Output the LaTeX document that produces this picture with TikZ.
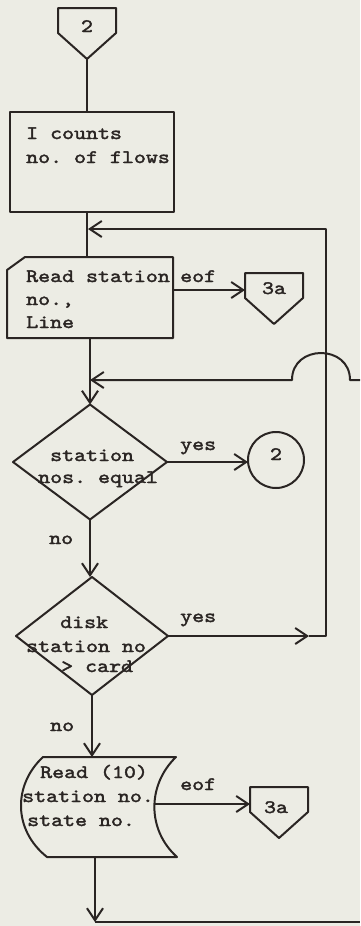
\documentclass[tikz,border=0pt]{standalone}
\usepackage{fontspec}
\setmonofont{lmmono10-regular.otf}[FakeStretch=1.2, FakeBold=2]
\usetikzlibrary{arrows.meta,shapes.geometric}
\definecolor{ink}{RGB}{42,37,35}
\definecolor{paper}{RGB}{236,236,228}
\tikzset{
  flow/.style={line width=2pt, draw=ink, line join=round},
  arr/.style={flow, -{Straight Barb[length=12pt,width=16pt]}},
  lbl/.style={inner sep=0pt, anchor=base west, text=ink,
    font=\ttfamily\fontsize{19}{23}\selectfont},
  ctr/.style={lbl, anchor=base},
  hold/.style={inner sep=0pt, outer sep=0pt, draw=none},
  box/.style={hold, flow},
  % off-page connector: pentagon pointing down, origin at top centre
  offpage/.pic={
    \draw[flow] (-29,0) -- (29,0) -- (29,25) -- (0,51) -- (-29,25) -- cycle;
    \coordinate (-w) at (-29,17);
    \coordinate (-s) at (0,51);
  },
}
\begin{document}
\begin{tikzpicture}[x=1pt,y=-1pt]
\fill[paper] (0,0) rectangle (360,926);
\useasboundingbox (0,0) rectangle (360,926);

% entry connector
\pic (cin) at (87,8) {offpage};
\node[ctr] at (87,32) {2};

% initialisation box
\node[box, minimum width=164pt, minimum height=100pt] (count) at (92,162) {};
\node[lbl] at (26,139) {I counts};
\node[lbl] at (26,163) {no. of flows};
\draw[flow] (cin-s) -- (cin-s |- count.north);

% read card
\node[hold, minimum width=166pt, minimum height=81pt] (readst) at (90,297.5) {};
\draw[flow] (readst.south west) -- (readst.south east) -- (readst.north east)
  -- ([xshift=18pt]readst.north west) -- ([yshift=-13pt]readst.north west) -- cycle;
\node[lbl] at (26,282) {Read station};
\node[lbl] at (26,305) {no.,};
\node[lbl] at (26,328) {Line};
\coordinate (join1) at (88,229);
\draw[flow] (cin-s |- count.south) -- (cin-s |- readst.north);

% end of file exit
\pic (eofa) at (274,273) {offpage};
\node[ctr] at (274,294) {3a};
\draw[arr] (readst.east |- eofa-w) -- (eofa-w);
\node[lbl] at (180,282) {eof};

% first decision
\node[hold, diamond, flow, minimum width=154pt, minimum height=115pt] (eqd) at (90,462) {};
\node[lbl] at (50,461) {station};
\node[lbl] at (38,483) {nos. equal};
\draw[arr] (readst.south -| eqd.north) -- (eqd.north);

% return line crossing the loop with a hop
\coordinate (offR1) at (360,380);
\coordinate (hopR) at (350,380);
\coordinate (hopL) at (292,380);
\draw[arr] (offR1) -- (hopR) .. controls (350,344) and (292,344) .. (hopL)
  -- (eqd.north |- offR1);

% return connector
\node[hold, circle, flow, minimum size=56pt] (ret) at (276,460) {};
\node[ctr] at (276,460) {2};
\draw[arr] (eqd.east) -- (eqd.east -| ret.west);
\node[lbl] at (180,450) {yes};

% second decision
\node[hold, diamond, flow, minimum width=152pt, minimum height=118pt] (gtd) at (92,636) {};
\draw[arr] (eqd.south) -- (eqd.south |- gtd.north);
\node[lbl] at (49,544) {no};
\node[lbl] at (60,628) {disk};
\node[lbl] at (26,652) {station no};
\node[lbl] at (61,672) {> card};
\node[lbl] at (180,622) {yes};

% loop back to the read card
\coordinate (yesmark) at (309,636);
\coordinate (loopx) at (326,636);
\coordinate (looptop) at (326,229);
\draw[arr] (gtd.east) -- (yesmark);
\draw[arr] (yesmark) -- (loopx) -- (looptop) -- (join1);

% stored data read
\node[hold, minimum width=156pt, minimum height=100pt] (readten) at (99,807) {};
\draw[flow] (43,757) -- (176,757) .. controls (147,785) and (147,830) .. (177,857)
  -- (47,857) .. controls (13,830) and (13,785) .. (43,757) -- cycle;
\draw[arr] (gtd.south) -- (gtd.south |- readten.north);
\node[lbl] at (50,731) {no};
\node[lbl] at (40,778) {Read (10)};
\node[lbl] at (22,802) {station no.};
\node[lbl] at (27,826) {state no.};

\pic (eofb) at (279,787) {offpage};
\node[ctr] at (276,813) {3a};
\coordinate (readten-r) at (154,804);
\draw[arr] (readten-r) -- (eofb-w);
\node[lbl] at (180,790) {eof};

% exit at the bottom
\coordinate (exit) at (95,922);
\coordinate (offR2) at (360,922);
\draw[arr] (exit |- readten.south) -- (exit);
\draw[flow] (exit) -- (offR2);
\end{tikzpicture}
\end{document}
